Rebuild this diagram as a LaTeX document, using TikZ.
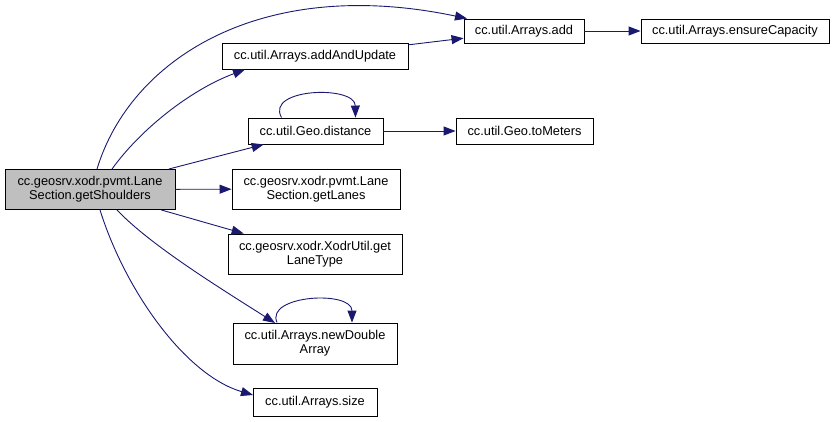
\documentclass[tikz,border=0pt]{standalone}
\usepackage{fontspec}
\setmainfont{Liberation Sans}
\usetikzlibrary{arrows.meta}
\definecolor{edgecol}{RGB}{25,25,112}
\definecolor{mainfill}{RGB}{191,191,191}
\begin{document}
\begin{tikzpicture}[x=1pt,y=-1pt,
  box/.style={draw=black,line width=0.9pt,fill=white,inner sep=0pt,align=center,
    font=\fontsize{12.8}{14}\selectfont},
  edge/.style={draw=edgecol,line width=0.9pt,-{Triangle[length=12pt,width=9pt]}}]
\useasboundingbox (0,0) rectangle (835,422);
\node[box,fill=mainfill,minimum width=170pt,minimum height=40pt] (main) at (90,189.5) {cc.geosrv.xodr.pvmt.Lane\\Section.getShoulders};
\node[box,minimum width=120pt,minimum height=24pt] (add) at (524,31) {cc.util.Arrays.add};
\node[box,minimum width=186pt,minimum height=26pt] (addup) at (315,56) {cc.util.Arrays.addAndUpdate};
\node[box,minimum width=188pt,minimum height=24pt] (ens) at (735,31) {cc.util.Arrays.ensureCapacity};
\node[box,minimum width=135pt,minimum height=26pt] (dist) at (315.5,131) {cc.util.Geo.distance};
\node[box,minimum width=137pt,minimum height=26pt] (tom) at (524.5,131) {cc.util.Geo.toMeters};
\node[box,minimum width=168pt,minimum height=40pt] (lanes) at (316,189) {cc.geosrv.xodr.pvmt.Lane\\Section.getLanes};
\node[box,minimum width=174pt,minimum height=40pt] (ltype) at (315,254) {cc.geosrv.xodr.XodrUtil.get\\LaneType};
\node[box,minimum width=164pt,minimum height=41pt] (nda) at (315,343.5) {cc.util.Arrays.newDouble\\Array};
\node[box,minimum width=124pt,minimum height=28pt] (size) at (315,402) {cc.util.Arrays.size};

\coordinate (addin) at (467,18.5);
\coordinate (addupin) at (245,69.5);
\coordinate (ndain) at (275,323);
\coordinate (sizein) at (253,395);

\draw[edge] ([xshift=7pt]main.north) .. controls (130,60) and (260,-25) .. (addin);
\draw[edge] ([xshift=22pt]main.north) .. controls (140,130) and (190,90) .. (addupin);
\draw[edge] (addup) -- (add);
\draw[edge] (add) -- (ens);
\draw[edge] (main) -- (dist);
\draw[edge] ([xshift=-34pt]dist.north) .. controls (265,88) and (355,85) .. ([xshift=40pt]dist.north);
\draw[edge] (dist) -- (tom);
\draw[edge] (main) -- (lanes);
\draw[edge] (main) -- (ltype);
\draw[edge] ([xshift=27pt]main.south) .. controls (150,245) and (220,288) .. (ndain);
\draw[edge] ([xshift=-38pt]nda.north) .. controls (265,295) and (352,290) .. ([xshift=37pt]nda.north);
\draw[edge] ([xshift=10pt]main.south) .. controls (125,290) and (185,375) .. (sizein);
\end{tikzpicture}
\end{document}
